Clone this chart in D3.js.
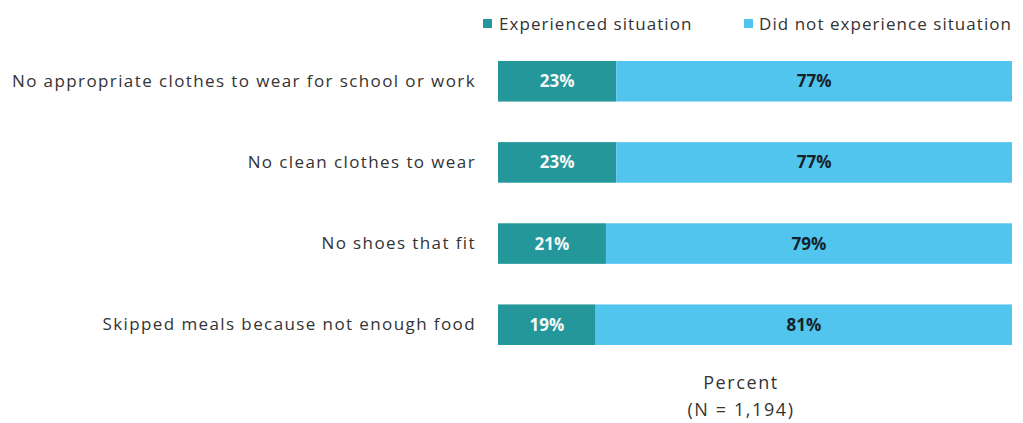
<!DOCTYPE html>
<html>
<head>
<meta charset="utf-8">
<script src="https://cdn.jsdelivr.net/npm/d3@7"></script>
<style>
  html, body { margin: 0; padding: 0; background: #fff; }
  svg { display: block; }
  text { font-family: "Open Sans", "Liberation Sans", sans-serif; }
</style>
</head>
<body>
<svg id="chart" width="1023" height="423"></svg>
<script>
// Situations reported, top to bottom
const categories = [
  "No appropriate clothes to wear for school or work",
  "No clean clothes to wear",
  "No shoes that fit",
  "Skipped meals because not enough food"
];
const experienced = [23, 23, 21, 19];
const notExperienced = [77, 77, 79, 81];
const seriesNames = ["Experienced situation", "Did not experience situation"];
const seriesColors = ["#23979a", "#52c5ef"];
const labelColors = ["#f4f8f8", "#14232b"];
const axisTitle = ["Percent", "(N = 1,194)"];

const svg = d3.select("#chart");
const margin = { left: 498, right: 11, top: 61, bottom: 78 };
const W = 1023, H = 423;

const x = d3.scaleLinear().domain([0, 100]).range([margin.left, W - margin.right]);
const y = d3.scaleBand().domain(categories).range([margin.top, H - margin.bottom]).paddingInner(0.5).paddingOuter(0);

const rows = categories.map((c, i) => ({ cat: c, vals: [experienced[i], notExperienced[i]] }));
const stack = d3.stack().keys([0, 1]).value((d, k) => d.vals[k]);
const layers = stack(rows);

const g = svg.append("g");
layers.forEach((layer, k) => {
  const lg = g.append("g");
  lg.selectAll("rect").data(layer).join("rect")
    .attr("x", d => x(d[0]))
    .attr("width", d => x(d[1]) - x(d[0]))
    .attr("y", d => y(d.data.cat))
    .attr("height", y.bandwidth())
    .attr("fill", seriesColors[k]);
  lg.selectAll("text").data(layer).join("text")
    .attr("x", d => (x(d[0]) + x(d[1])) / 2)
    .attr("y", d => y(d.data.cat) + y.bandwidth() / 2)
    .attr("dy", "0.35em")
    .attr("text-anchor", "middle")
    .attr("font-size", 17)
    .attr("font-weight", 700)
    .attr("fill", labelColors[k])
    .text(d => d.data.vals[k] + "%");
});

// Category axis on the left, without domain or tick lines
const yAxis = svg.append("g")
  .attr("transform", `translate(${margin.left - 22},0)`)
  .call(d3.axisLeft(y).tickSize(0).tickPadding(0));
yAxis.select(".domain").remove();
yAxis.selectAll("text")
  .attr("font-size", 17)
  .attr("letter-spacing", "1.4px")
  .attr("fill", "#333")
  .style("font-family", "\"Open Sans\", sans-serif");

// Legend
const legendItems = [
  { name: seriesNames[0], sq: 483, tx: 499 },
  { name: seriesNames[1], sq: 744, tx: 759 }
];
const lgd = svg.append("g");
legendItems.forEach((it, k) => {
  lgd.append("rect").attr("x", it.sq).attr("y", 19).attr("width", 9).attr("height", 9)
    .attr("fill", seriesColors[k]);
  lgd.append("text").attr("x", it.tx).attr("y", 24).attr("dy", "0.35em")
    .attr("font-size", 17).attr("letter-spacing", "1.05px").attr("fill", "#333").text(it.name);
});

// Axis title
const cx = 741;
axisTitle.forEach((t, i) => {
  svg.append("text").attr("x", cx).attr("y", 383 + i * 27).attr("dy", "0.35em")
    .attr("text-anchor", "middle").attr("font-size", 18).attr("letter-spacing", "1.6px")
    .attr("fill", "#333").text(t);
});
</script>
</body>
</html>
